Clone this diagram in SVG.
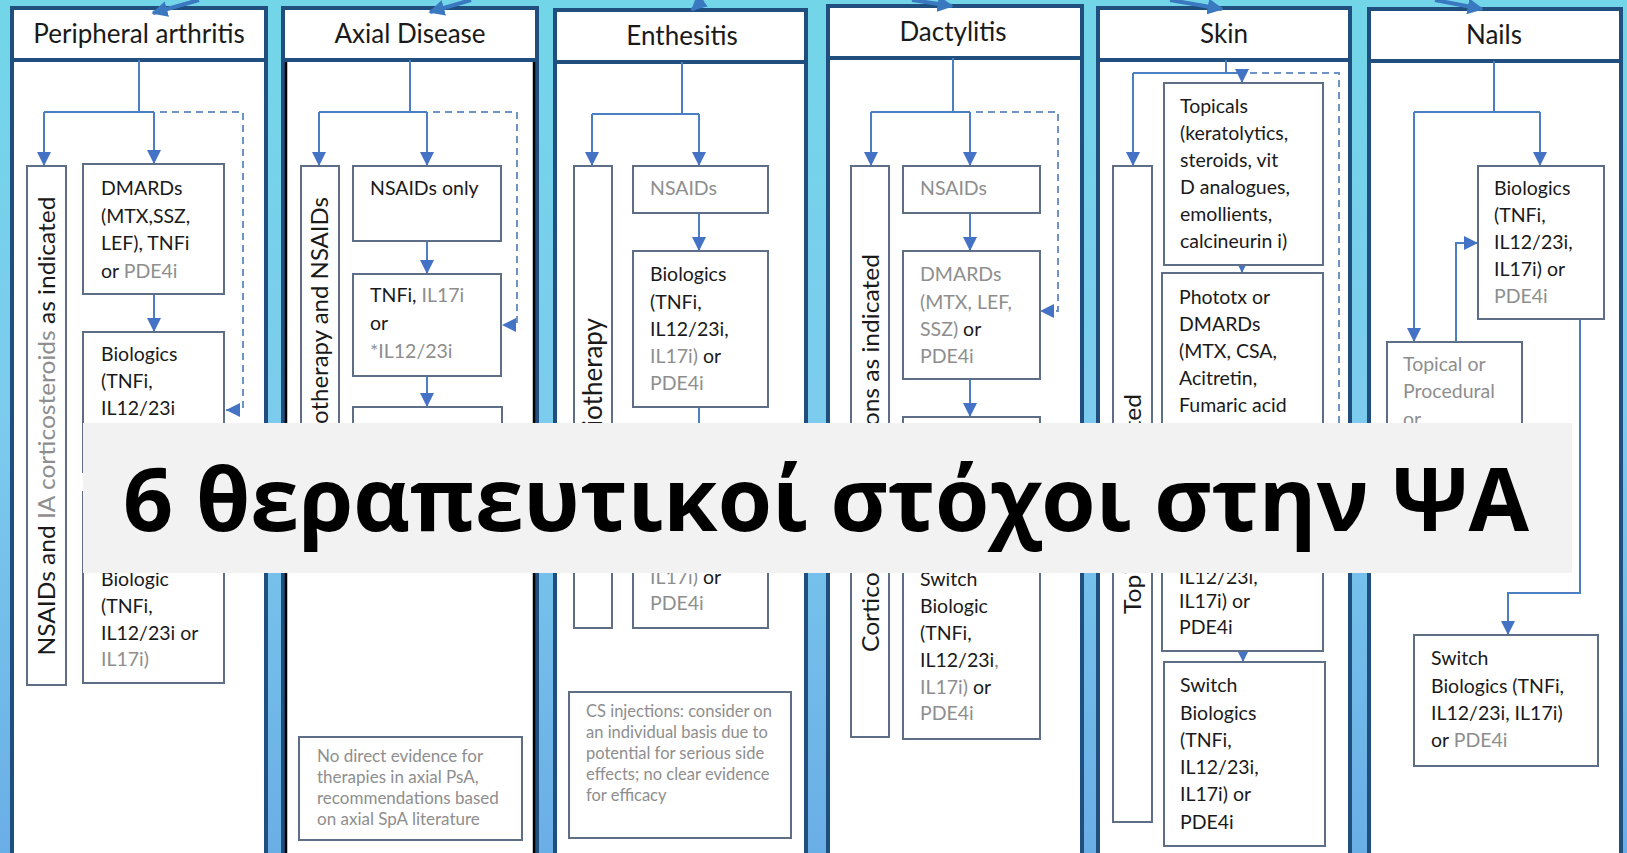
<svg xmlns="http://www.w3.org/2000/svg" width="1627" height="853" viewBox="0 0 1627 853">
<defs>
<linearGradient id="bg" x1="0" y1="0" x2="0" y2="1">
<stop offset="0" stop-color="#72d6e8"/>
<stop offset="0.5" stop-color="#7ccbee"/>
<stop offset="1" stop-color="#6aaee6"/>
</linearGradient>
<marker id="ah" viewBox="0 0 10 10" refX="10" refY="5" markerWidth="14" markerHeight="14" markerUnits="userSpaceOnUse" orient="auto">
<path d="M0,0 L10,5 L0,10 z" fill="#4472c4"/>
</marker>
<marker id="ahb" viewBox="0 0 10 10" refX="9" refY="5" markerWidth="16" markerHeight="16" markerUnits="userSpaceOnUse" orient="auto">
<path d="M0,0 L10,5 L0,10 z" fill="#3a78c0"/>
</marker>
</defs>
<style>
text{font-family:Lato,"Liberation Sans",sans-serif;fill:#1a1a1a}
.panel{fill:#ffffff;stroke:#1f4e7f;stroke-width:4}
.head{fill:#ffffff;stroke:#1f4e7f;stroke-width:4}
.box{fill:#ffffff;stroke:#5e6e86;stroke-width:2}
.h{font-size:26px;text-anchor:middle}
.t{font-size:19.5px}
.v{font-size:24px}
.n{font-size:16.5px;fill:#8e8e8e}
.g{fill:#8e8e8e}
.c{fill:none;stroke:#4a7fc1;stroke-width:2}
.d{fill:none;stroke:#6f93c4;stroke-width:2;stroke-dasharray:7 5}
.top{fill:none;stroke:#3a78c0;stroke-width:4}
.title{font-family:"Open Sans","Noto Sans",sans-serif;font-weight:700;font-size:88px;text-anchor:middle;fill:#000000}
</style>
<rect x="0" y="0" width="1627" height="853" fill="url(#bg)"/>

<g id="panel-peripheral">
<rect class="panel" x="12" y="8" width="254" height="850"/>
<rect class="head" x="12" y="8" width="254" height="52"/>
<text class="h" x="139" y="43">Peripheral arthritis</text>
</g>
<g id="panel-axial">
<rect class="panel" x="283" y="8" width="254" height="850"/>
<line x1="286" y1="60" x2="286" y2="853" stroke="#000" stroke-width="2.5"/>
<line x1="534" y1="60" x2="534" y2="853" stroke="#000" stroke-width="2.5"/>
<rect class="head" x="283" y="8" width="254" height="52"/>
<text class="h" x="410" y="43">Axial Disease</text>
</g>
<g id="panel-enthesitis">
<rect class="panel" x="555" y="10" width="251" height="850"/>
<rect class="head" x="555" y="10" width="251" height="52"/>
<text class="h" x="682" y="45">Enthesitis</text>
</g>
<g id="panel-dactylitis">
<rect class="panel" x="828" y="6" width="254" height="850"/>
<rect class="head" x="828" y="6" width="254" height="52"/>
<text class="h" x="953" y="41">Dactylitis</text>
</g>
<g id="panel-skin">
<rect class="panel" x="1098" y="8" width="252" height="850"/>
<rect class="head" x="1098" y="8" width="252" height="52"/>
<text class="h" x="1224" y="43">Skin</text>
</g>
<g id="panel-nails">
<rect class="panel" x="1369" y="9" width="252" height="850"/>
<rect class="head" x="1369" y="9" width="252" height="52"/>
<text class="h" x="1494" y="44">Nails</text>
</g>

<g id="connectors">
<path class="top" d="M199,0 L153,13" marker-end="url(#ahb)"/>
<path class="top" d="M471,0 L430,12" marker-end="url(#ahb)"/>
<path class="top" d="M703,0 L692,10" marker-end="url(#ahb)"/>
<path class="top" d="M912,0 L952,6" marker-end="url(#ahb)"/>
<path class="top" d="M1170,0 L1222,9" marker-end="url(#ahb)"/>
<path class="top" d="M1435,0 L1482,9" marker-end="url(#ahb)"/>

<path class="c" d="M139,60 V112 M44,112 H154"/>
<path class="c" d="M44,112 V166" marker-end="url(#ah)"/>
<path class="c" d="M154,112 V164" marker-end="url(#ah)"/>
<path class="d" d="M160,112 H243 V410 H226" marker-end="url(#ah)"/>
<path class="c" d="M154,294 V332" marker-end="url(#ah)"/>

<path class="c" d="M410,60 V112 M319,112 H427"/>
<path class="c" d="M319,112 V166" marker-end="url(#ah)"/>
<path class="c" d="M427,112 V166" marker-end="url(#ah)"/>
<path class="d" d="M433,112 H517 V325 H502" marker-end="url(#ah)"/>
<path class="c" d="M427,241 V274" marker-end="url(#ah)"/>
<path class="c" d="M427,376 V407" marker-end="url(#ah)"/>

<path class="c" d="M682,62 V114 M592,114 H699"/>
<path class="c" d="M592,114 V166" marker-end="url(#ah)"/>
<path class="c" d="M699,114 V166" marker-end="url(#ah)"/>
<path class="c" d="M699,213 V251" marker-end="url(#ah)"/>
<path class="c" d="M699,407 V440"/>

<path class="c" d="M953,58 V112" stroke-width="3"/>
<path class="c" d="M871,112 H970"/>
<path class="c" d="M871,112 V166" marker-end="url(#ah)"/>
<path class="c" d="M970,112 V166" marker-end="url(#ah)"/>
<path class="d" d="M976,112 H1058 V311 H1040" marker-end="url(#ah)"/>
<path class="c" d="M970,213 V251" marker-end="url(#ah)"/>
<path class="c" d="M970,379 V417" marker-end="url(#ah)"/>

<path class="c" d="M1226,60 V73 M1133,73 H1226"/>
<path class="c" d="M1133,73 V166" marker-end="url(#ah)"/>
<path class="c" d="M1226,73 H1242 V83" marker-end="url(#ah)"/>
<path class="d" d="M1250,73 H1339 V566 H1326" marker-end="url(#ah)"/>
<path class="c" d="M1242,265 V273" marker-end="url(#ah)"/>
<path class="c" d="M1243,651 V662" marker-end="url(#ah)"/>

<path class="c" d="M1494,61 V112 M1414,112 H1540"/>
<path class="c" d="M1414,112 V342" marker-end="url(#ah)"/>
<path class="c" d="M1540,112 V166" marker-end="url(#ah)"/>
<path class="c" d="M1456,342 V243 H1478" marker-end="url(#ah)"/>
<path class="c" d="M1580,319 V593 H1508 V635" marker-end="url(#ah)"/>
</g>

<g id="pa-side">
<rect class="box" x="27" y="166" width="39" height="519"/>
<text class="v" transform="translate(55,426) rotate(-90)" text-anchor="middle" textLength="459" lengthAdjust="spacingAndGlyphs">NSAIDs and <tspan class="g">IA corticosteroids</tspan> as indicated</text>
</g>
<g id="pa-dmards">
<rect class="box" x="83" y="164" width="141" height="130"/>
<text class="t" x="101" y="195">DMARDs</text>
<text class="t" x="101" y="223">(MTX,SSZ,</text>
<text class="t" x="101" y="250"> LEF), TNFi</text>
<text class="t" x="101" y="278">or <tspan class="g">PDE4i</tspan></text>
</g>
<g id="pa-biologics">
<rect class="box" x="83" y="332" width="141" height="140"/>
<text class="t" x="101" y="361">Biologics</text>
<text class="t" x="101" y="388">(TNFi,</text>
<text class="t" x="101" y="415">IL12/23i</text>
</g>
<g id="pa-switch">
<rect class="box" x="83" y="492" width="141" height="191"/>
<text class="t" x="101" y="586">Biologic</text>
<text class="t" x="101" y="613">(TNFi,</text>
<text class="t" x="101" y="640">IL12/23i or</text>
<text class="t g" x="101" y="666">IL17i)</text>
</g>

<g id="ax-side">
<rect class="box" x="301" y="166" width="38" height="340"/>
<text class="v" transform="translate(328,197) rotate(-90)" text-anchor="end">Physiotherapy and NSAIDs</text>
</g>
<g id="ax-nsaids">
<rect class="box" x="353" y="166" width="148" height="75"/>
<text class="t" x="370" y="195">NSAIDs only</text>
</g>
<g id="ax-tnfi">
<rect class="box" x="353" y="274" width="148" height="102"/>
<text class="t" x="370" y="302">TNFi, <tspan class="g">IL17i</tspan></text>
<text class="t" x="370" y="330">or</text>
<text class="t g" x="370" y="358">*IL12/23i</text>
</g>
<g id="ax-switch">
<rect class="box" x="353" y="407" width="149" height="100"/>
</g>
<g id="ax-note">
<rect class="box" x="299" y="737" width="223" height="103"/>
<text class="n" x="317" y="762" style="font-size:17px">No direct evidence for</text>
<text class="n" x="317" y="783" style="font-size:17px">therapies in axial PsA,</text>
<text class="n" x="317" y="804" style="font-size:17px">recommendations based</text>
<text class="n" x="317" y="825" style="font-size:17px">on axial SpA literature</text>
</g>

<g id="en-side">
<rect class="box" x="574" y="166" width="38" height="462"/>
<text class="v" transform="translate(602,318) rotate(-90)" text-anchor="end" style="font-size:26px">Physiotherapy</text>
</g>
<g id="en-nsaids">
<rect class="box" x="633" y="166" width="135" height="47"/>
<text class="t g" x="650" y="195">NSAIDs</text>
</g>
<g id="en-biologics">
<rect class="box" x="633" y="251" width="135" height="156"/>
<text class="t" x="650" y="281">Biologics</text>
<text class="t" x="650" y="309">(TNFi,</text>
<text class="t" x="650" y="336">IL12/23i,</text>
<text class="t" x="650" y="363"><tspan class="g">IL17i)</tspan> or</text>
<text class="t g" x="650" y="390">PDE4i</text>
</g>
<g id="en-switch">
<rect class="box" x="633" y="470" width="135" height="158"/>
<text class="t" x="650" y="584"><tspan class="g">IL17i)</tspan> or</text>
<text class="t g" x="650" y="610">PDE4i</text>
</g>
<g id="en-note">
<rect class="box" x="569" y="692" width="222" height="146"/>
<text class="n" x="586" y="717">CS injections: consider on</text>
<text class="n" x="586" y="738">an individual basis due to</text>
<text class="n" x="586" y="759">potential for serious side</text>
<text class="n" x="586" y="780">effects; no clear evidence</text>
<text class="n" x="586" y="801">for efficacy</text>
</g>

<g id="da-side">
<rect class="box" x="851" y="166" width="38" height="571"/>
<text class="v" transform="translate(879,453) rotate(-90)" text-anchor="middle" textLength="398" lengthAdjust="spacingAndGlyphs">Corticosteroid injections as indicated</text>
</g>
<g id="da-nsaids">
<rect class="box" x="903" y="166" width="137" height="47"/>
<text class="t g" x="920" y="195">NSAIDs</text>
</g>
<g id="da-dmards">
<rect class="box" x="903" y="251" width="137" height="128"/>
<text class="t g" x="920" y="281">DMARDs</text>
<text class="t g" x="920" y="309">(MTX, LEF,</text>
<text class="t" x="920" y="336"><tspan class="g">SSZ)</tspan> or</text>
<text class="t g" x="920" y="363">PDE4i</text>
</g>
<g id="da-biologic">
<rect class="box" x="903" y="417" width="137" height="120"/>
</g>
<g id="da-switch">
<rect class="box" x="903" y="548" width="137" height="191"/>
<text class="t" x="920" y="586">Switch</text>
<text class="t" x="920" y="613">Biologic</text>
<text class="t" x="920" y="640">(TNFi,</text>
<text class="t" x="920" y="667">IL12/23i<tspan class="g">,</tspan></text>
<text class="t" x="920" y="694"><tspan class="g">IL17i)</tspan> or</text>
<text class="t g" x="920" y="720">PDE4i</text>
</g>

<g id="sk-side">
<rect class="box" x="1113" y="166" width="39" height="656"/>
<text class="v" transform="translate(1141,504) rotate(-90)" text-anchor="middle" textLength="220" lengthAdjust="spacingAndGlyphs">Topicals as indicated</text>
</g>
<g id="sk-topicals">
<rect class="box" x="1164" y="83" width="159" height="182"/>
<text class="t" x="1180" y="113">Topicals</text>
<text class="t" x="1180" y="140">(keratolytics,</text>
<text class="t" x="1180" y="167">steroids, vit</text>
<text class="t" x="1180" y="194">D analogues,</text>
<text class="t" x="1180" y="221">emollients,</text>
<text class="t" x="1180" y="248">calcineurin i)</text>
</g>
<g id="sk-phototx">
<rect class="box" x="1162" y="273" width="161" height="190"/>
<text class="t" x="1179" y="304">Phototx or</text>
<text class="t" x="1179" y="331">DMARDs</text>
<text class="t" x="1179" y="358">(MTX, CSA,</text>
<text class="t" x="1179" y="385">Acitretin,</text>
<text class="t" x="1179" y="412">Fumaric acid</text>
</g>
<g id="sk-biologics">
<rect class="box" x="1162" y="480" width="161" height="171"/>
<text class="t" x="1179" y="584">IL12/23i,</text>
<text class="t" x="1179" y="608">IL17i) or</text>
<text class="t" x="1179" y="634">PDE4i</text>
</g>
<g id="sk-switch">
<rect class="box" x="1164" y="662" width="161" height="184"/>
<text class="t" x="1180" y="692">Switch</text>
<text class="t" x="1180" y="720">Biologics</text>
<text class="t" x="1180" y="747">(TNFi,</text>
<text class="t" x="1180" y="774">IL12/23i,</text>
<text class="t" x="1180" y="801">IL17i) or</text>
<text class="t" x="1180" y="829">PDE4i</text>
</g>

<g id="na-biologics">
<rect class="box" x="1478" y="166" width="126" height="153"/>
<text class="t" x="1494" y="195">Biologics</text>
<text class="t" x="1494" y="222">(TNFi,</text>
<text class="t" x="1494" y="249">IL12/23i,</text>
<text class="t" x="1494" y="276">IL17i) or</text>
<text class="t g" x="1494" y="303">PDE4i</text>
</g>
<g id="na-topical">
<rect class="box" x="1387" y="342" width="135" height="150"/>
<text class="t g" x="1403" y="371">Topical or</text>
<text class="t g" x="1403" y="398">Procedural</text>
<text class="t g" x="1403" y="426">or</text>
</g>
<g id="na-switch">
<rect class="box" x="1414" y="635" width="184" height="131"/>
<text class="t" x="1431" y="665">Switch</text>
<text class="t" x="1431" y="693">Biologics (TNFi,</text>
<text class="t" x="1431" y="720">IL12/23i, IL17i)</text>
<text class="t" x="1431" y="747">or <tspan class="g">PDE4i</tspan></text>
</g>

<g id="title-banner">
<rect x="83" y="423" width="1489" height="150" fill="#f2f2f2"/>
<text class="title" x="826" y="531" textLength="1406" lengthAdjust="spacingAndGlyphs">6 θεραπευτικοί στόχοι στην ΨΑ</text>
</g>
</svg>
